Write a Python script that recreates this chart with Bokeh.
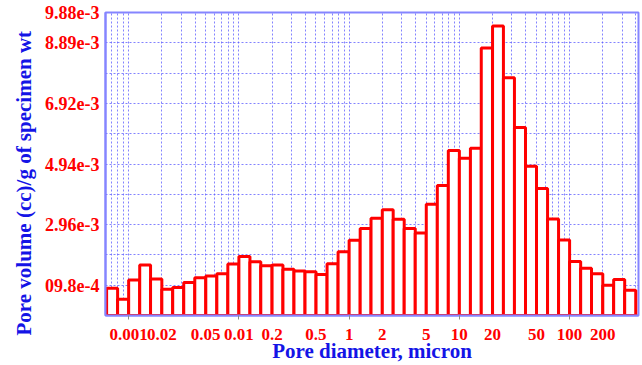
from bokeh.plotting import figure
from bokeh.models import Range1d, FixedTicker, ColumnDataSource, Title
from bokeh.embed import file_html
from bokeh.resources import INLINE

# Pore-size bins (micron), ten log-spaced bins per decade
bin_edges = [
    0.00631, 0.00794, 0.0100, 0.0126, 0.0158, 0.0200, 0.0251, 0.0316, 0.0398, 0.0501,
    0.0631, 0.0794, 0.100, 0.126, 0.158, 0.200, 0.251, 0.316, 0.398, 0.501,
    0.631, 0.794, 1.00, 1.26, 1.58, 2.00, 2.51, 3.16, 3.98, 5.01,
    6.31, 7.94, 10.0, 12.6, 15.8, 20.0, 25.1, 31.6, 39.8, 50.1,
    63.1, 79.4, 100.0, 126.0, 158.0, 200.0, 251.0, 316.0, 398.0,
]

# Incremental pore volume per bin, cc/g of specimen weight
pore_volume = [
    8.9e-4, 5.3e-4, 1.16e-3, 1.65e-3, 1.19e-3, 8.6e-4, 9.1e-4, 1.08e-3, 1.235e-3, 1.29e-3,
    1.36e-3, 1.68e-3, 1.92e-3, 1.75e-3, 1.62e-3, 1.65e-3, 1.51e-3, 1.45e-3, 1.43e-3, 1.34e-3,
    1.69e-3, 2.08e-3, 2.45e-3, 2.84e-3, 3.17e-3, 3.45e-3, 3.14e-3, 2.84e-3, 2.69e-3, 3.63e-3,
    4.24e-3, 5.38e-3, 5.13e-3, 5.45e-3, 8.72e-3, 9.44e-3, 7.75e-3, 6.13e-3, 4.87e-3, 4.14e-3,
    3.15e-3, 2.46e-3, 1.76e-3, 1.54e-3, 1.36e-3, 9.9e-4, 1.17e-3, 8.2e-4,
]

x_tick_values = [0.01, 0.02, 0.05, 0.1, 0.2, 0.5, 1, 2, 5, 10, 20, 50, 100, 200]
x_tick_labels = ["0.001", "0.02", "0.05", "0.01", "0.2", "0.5", "1", "2", "5",
                 "10", "20", "50", "100", "200"]
x_decades = [0.01, 0.1, 1, 10, 100]

y_tick_values = [0.000988, 0.00296, 0.00494, 0.00692, 0.00889, 0.00988]
y_tick_labels = ["09.8e-4", "2.96e-3", "4.94e-3", "6.92e-3", "8.89e-3", "9.88e-3"]
y_grid_values = [0.000988, 0.001976, 0.002964, 0.003952, 0.00494,
                 0.005928, 0.006916, 0.007904, 0.008892]

x_grid_values = [m * 10.0 ** e for e in range(-3, 3) for m in range(1, 10)]

source = ColumnDataSource(dict(
    left=bin_edges[:-1],
    right=bin_edges[1:],
    top=pore_volume,
))

RED = "#ff0000"
BLUE = "#1414e6"
GRID = "#5a5aff"
FRAME = "#8585ff"
FONT = "Liberation Serif"

p = figure(
    width=642, height=365,
    x_axis_type="log",
    x_range=Range1d(10 ** -2.21, 10 ** 2.625),
    y_range=Range1d(0, 0.00988),
    output_backend="svg",
    toolbar_location=None,
    min_border_left=105, min_border_right=4,
    min_border_top=12, min_border_bottom=50,
)
p.background_fill_color = "white"
p.border_fill_color = "white"
p.outline_line_color = FRAME
p.outline_line_width = 2

p.quad(left="left", right="right", bottom=0, top="top", source=source,
       fill_color="white", line_color=RED, line_width=3)

# grid
p.xgrid.ticker = FixedTicker(ticks=x_grid_values)
p.ygrid.ticker = FixedTicker(ticks=y_grid_values)
for g in (p.xgrid, p.ygrid):
    g.grid_line_color = GRID
    g.grid_line_alpha = 0.75
    g.grid_line_dash = "2 2"
    g.grid_line_width = 1

# x axis
xa = p.xaxis[0]
xa.ticker = FixedTicker(ticks=x_tick_values, minor_ticks=x_decades)
xa.major_label_overrides = {v: s for v, s in zip(x_tick_values, x_tick_labels)}
xa.major_tick_out = 0
xa.major_tick_in = 0
xa.minor_tick_out = 4
xa.minor_tick_in = 0
xa.minor_tick_line_color = "#8a8a8a"
xa.axis_line_color = FRAME
xa.axis_line_width = 2
xa.major_label_text_color = RED
xa.major_label_text_font = FONT
xa.major_label_text_font_style = "bold"
xa.major_label_text_font_size = "17px"
xa.major_label_standoff = 9
xa.axis_label = "Pore diameter, micron"
xa.axis_label_text_color = BLUE
xa.axis_label_text_font = FONT
xa.axis_label_text_font_style = "bold"
xa.axis_label_text_font_size = "21px"
xa.axis_label_standoff = -4

# y axis
ya = p.yaxis[0]
ya.ticker = FixedTicker(ticks=y_tick_values)
ya.major_label_overrides = {v: s for v, s in zip(y_tick_values, y_tick_labels)}
ya.major_tick_out = 0
ya.major_tick_in = 0
ya.minor_tick_out = 0
ya.minor_tick_in = 0
ya.axis_line_color = FRAME
ya.axis_line_width = 2
ya.major_label_text_color = RED
ya.major_label_text_font = FONT
ya.major_label_text_font_style = "bold"
ya.major_label_text_font_size = "18px"
ya.major_label_standoff = 6

# y-axis title, starting a little below the frame's bottom edge
p.add_layout(Title(
    text="Pore volume (cc)/g of specimen wt",
    align="left", offset=-20, standoff=14,
    text_color=BLUE, text_font=FONT, text_font_style="bold",
    text_font_size="21px",
), "left")

open("out.html", "w").write(file_html(p, INLINE))
